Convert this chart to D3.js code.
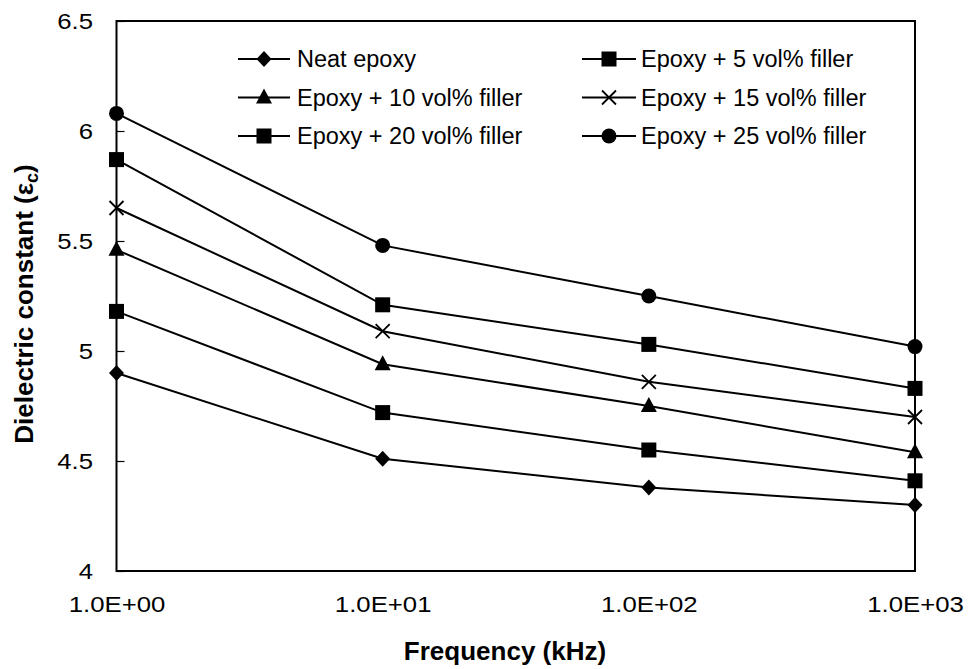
<!DOCTYPE html>
<html>
<head>
<meta charset="utf-8">
<script src="https://cdn.jsdelivr.net/npm/d3@7/dist/d3.min.js"></script>
<style>
  html, body { margin: 0; padding: 0; background: #fff; }
  svg { display: block; }
  text { font-family: "Liberation Sans", Arial, sans-serif; fill: #000; }
</style>
</head>
<body>
<svg id="chart" width="971" height="669"></svg>
<script>
// ---- Data ----
const frequencies = [1, 10, 100, 1000];
const xTickLabels = ["1.0E+00", "1.0E+01", "1.0E+02", "1.0E+03"];
const yTicks = [4, 4.5, 5, 5.5, 6, 6.5];
const yTickLabels = ["4", "4.5", "5", "5.5", "6", "6.5"];
const seriesNames = ["Neat epoxy", "Epoxy + 5 vol% filler", "Epoxy + 10 vol% filler",
                     "Epoxy + 15 vol% filler", "Epoxy + 20 vol% filler", "Epoxy + 25 vol% filler"];
const seriesMarkers = ["diamond", "square", "triangle", "cross", "square", "circle"];
const neatEpoxy = [4.90, 4.51, 4.38, 4.30];
const filler5   = [5.18, 4.72, 4.55, 4.41];
const filler10  = [5.46, 4.94, 4.75, 4.54];
const filler15  = [5.65, 5.09, 4.86, 4.70];
const filler20  = [5.87, 5.21, 5.03, 4.83];
const filler25  = [6.08, 5.48, 5.25, 5.02];
const seriesValues = [neatEpoxy, filler5, filler10, filler15, filler20, filler25];

(function () {
// ---- Layout ----
const svg = d3.select("#chart");
const pLeft = 116.5, pRight = 915, pTop = 21, pBottom = 571;
const x = d3.scaleLog().domain([1, 1000]).range([pLeft, pRight]);
const y = d3.scaleLinear().domain([4, 6.5]).range([pBottom, pTop]);

function diamondPath(cx, cy) {
  const w = 7.5, h = 8;
  return `M${cx},${cy - h} L${cx + w},${cy} L${cx},${cy + h} L${cx - w},${cy} Z`;
}

function drawMarker(g, type, cx, cy) {
  if (type === "diamond") {
    g.append("path").attr("d", diamondPath(cx, cy)).attr("fill", "#000");
  } else if (type === "square") {
    g.append("rect").attr("x", cx - 7.5).attr("y", cy - 7.5).attr("width", 15).attr("height", 15).attr("fill", "#000");
  } else if (type === "triangle") {
    g.append("path").attr("d", `M${cx},${cy - 9} L${cx + 8},${cy + 6} L${cx - 8},${cy + 6} Z`).attr("fill", "#000");
  } else if (type === "circle") {
    g.append("circle").attr("cx", cx).attr("cy", cy).attr("r", 7.5).attr("fill", "#000");
  } else if (type === "cross") {
    const s = 7;
    g.append("path").attr("d", `M${cx - s},${cy - s} L${cx + s},${cy + s} M${cx - s},${cy + s} L${cx + s},${cy - s}`)
      .attr("stroke", "#000").attr("stroke-width", 1.8).attr("fill", "none");
  }
}

// y ticks (inside)
const yAxis = d3.axisRight(y).tickValues(yTicks).tickSize(8).tickFormat("");
const yAxisG = svg.append("g").attr("transform", `translate(${pLeft},0)`).call(yAxis);
yAxisG.select(".domain").remove();
yAxisG.selectAll(".tick line").attr("stroke", "#000").attr("stroke-width", 1.2);

// y tick labels
svg.append("g").selectAll("text").data(yTicks).join("text")
  .attr("x", 0).attr("y", 0).attr("dy", "0.36em")
  .attr("text-anchor", "end").attr("font-size", 23)
  .attr("transform", d => `translate(93,${y(d)}) scale(1.12,1)`)
  .text((d, i) => yTickLabels[i]);

// x tick labels
const xAxis = d3.axisBottom(x).tickValues(frequencies).tickSize(0).tickFormat((d, i) => xTickLabels[i]);
const xAxisG = svg.append("g").attr("transform", `translate(0,${pBottom})`).call(xAxis);
xAxisG.select(".domain").remove();
xAxisG.selectAll(".tick text")
  .attr("font-family", "Liberation Sans, Arial, sans-serif")
  .attr("font-size", 23).attr("fill", "#000")
  .attr("y", 0).attr("dy", 0)
  .attr("transform", "translate(0,41) scale(1.12,1)")
  .attr("text-anchor", "middle");

// series lines
const line = d3.line().x((d, i) => x(frequencies[i])).y(d => y(d));
const seriesG = svg.append("g");
seriesValues.forEach((vals) => {
  seriesG.append("path").datum(vals).attr("d", line)
    .attr("fill", "none").attr("stroke", "#000").attr("stroke-width", 2);
});

// frame
svg.append("rect").attr("x", pLeft).attr("y", pTop).attr("width", pRight - pLeft).attr("height", pBottom - pTop)
  .attr("fill", "none").attr("stroke", "#000").attr("stroke-width", 2);

// markers
seriesValues.forEach((vals, si) => {
  const g = svg.append("g");
  vals.forEach((v, i) => drawMarker(g, seriesMarkers[si], x(frequencies[i]), y(v)));
});

// legend
const legendCols = [{x1: 238, x2: 290, tx: 297}, {x1: 582, x2: 636, tx: 641}];
const legendRows = [59, 97.5, 136];
seriesNames.forEach((name, i) => {
  const col = legendCols[i % 2], ry = legendRows[Math.floor(i / 2)];
  const g = svg.append("g");
  g.append("line").attr("x1", col.x1).attr("x2", col.x2).attr("y1", ry).attr("y2", ry)
    .attr("stroke", "#000").attr("stroke-width", 2);
  drawMarker(g, seriesMarkers[i], (col.x1 + col.x2) / 2, ry);
  g.append("text").attr("x", col.tx).attr("y", ry).attr("dy", "0.36em")
    .attr("font-size", 23.5).text(name);
});

// axis titles
svg.append("text").attr("x", 505).attr("y", 660).attr("text-anchor", "middle")
  .attr("font-size", 26).attr("font-weight", "bold").text("Frequency (kHz)");

const yt = svg.append("text").attr("transform", "translate(33,304) rotate(-90)")
  .attr("text-anchor", "middle").attr("font-size", 26).attr("font-weight", "bold");
yt.append("tspan").text("Dielectric constant (ε");
yt.append("tspan").attr("font-size", 18).attr("dy", 5).text("c");
yt.append("tspan").attr("dy", -5).text(")");
})();
</script>
</body>
</html>
